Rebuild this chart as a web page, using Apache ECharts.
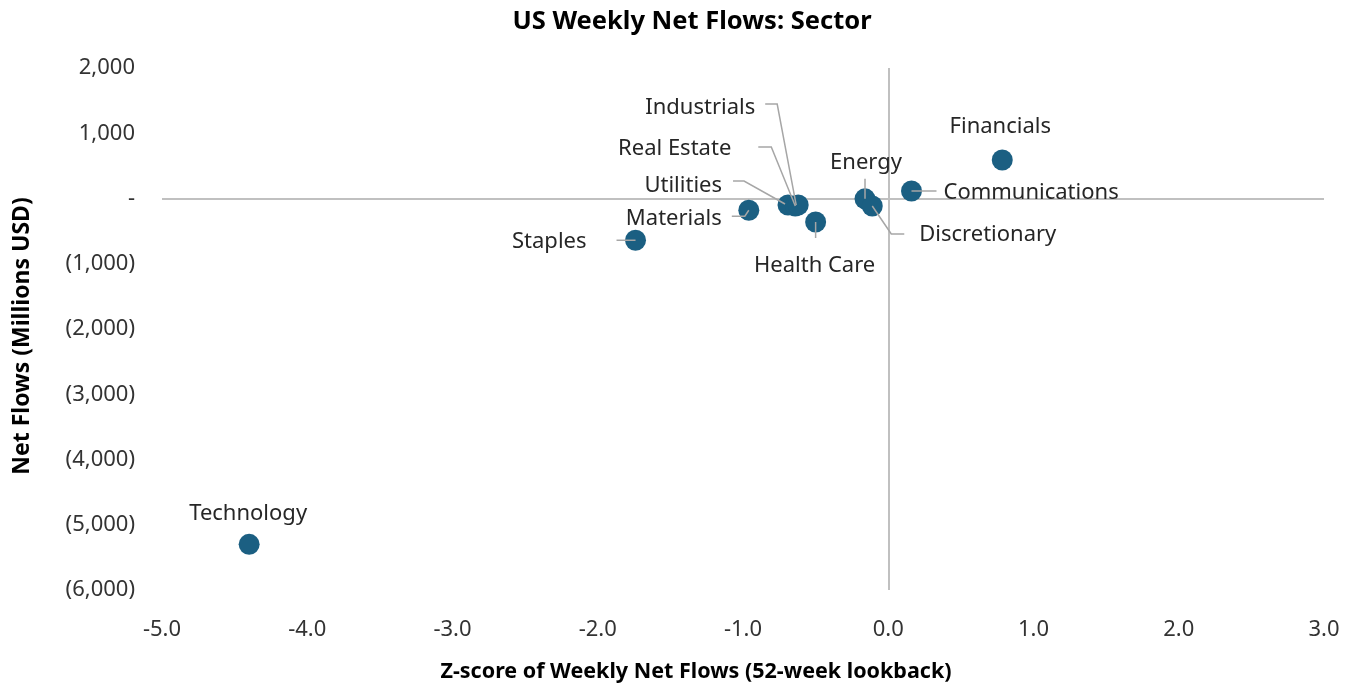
<!DOCTYPE html>
<html>
<head>
<meta charset="utf-8">
<script src="https://cdn.jsdelivr.net/npm/echarts@6/dist/echarts.min.js"></script>
<style>
html,body{margin:0;padding:0;background:#fff;}
#chart{width:1358px;height:690px;}
</style>
</head>
<body>
<div id="chart"></div>
<script>
// ---- Data ----
var sectors = ['Technology','Staples','Materials','Utilities','Real Estate','Industrials','Health Care','Energy','Discretionary','Communications','Financials'];
var zScores = [-4.40, -1.74, -0.96, -0.69, -0.64, -0.62, -0.50, -0.16, -0.11, 0.16, 0.785];
var netFlows = [-5300, -640, -180, -100, -115, -100, -360, -5, -115, 115, 590];
var xTicks = [-5, -4, -3, -2, -1, 0, 1, 2, 3];
var yTicks = [-6000, -5000, -4000, -3000, -2000, -1000, 0, 1000, 2000];

var titleText = 'US Weekly Net Flows: Sector';
var xTitle = 'Z-score of Weekly Net Flows (52-week lookback)';
var yTitle = 'Net Flows (Millions USD)';

// ---- Label placement (pixel offsets from each marker; styling only) ----
var labelPlacement = {
  'Technology':     {tx:-1,  ty:-31, align:'center'},
  'Financials':     {tx:-2,  ty:-33, align:'center'},
  'Staples':        {tx:-49, ty:1,   align:'right', line:[[-19,0],[0,0]]},
  'Materials':      {tx:-27, ty:8,   align:'right', line:[[-17,6],[-4,6],[0,0]]},
  'Utilities':      {tx:-66, ty:-19, align:'right', line:[[-55,-24],[-44,-24],[-3,-1]]},
  'Real Estate':    {tx:-64, ty:-57, align:'right', line:[[-37,-59],[-24,-59],[0,0]]},
  'Industrials':    {tx:-43, ty:-97, align:'right', line:[[-33,-101],[-21,-101],[-2,0]]},
  'Health Care':    {tx:-1,  ty:44,  align:'center', line:[[0,0],[0,16]]},
  'Energy':         {tx:1,   ty:-36, align:'center', line:[[0,-20],[0,0]]},
  'Discretionary':  {tx:47,  ty:29,  align:'left', line:[[0,0],[19,28],[32,28]]},
  'Communications': {tx:32,  ty:2,   align:'left', line:[[0,0],[25,0]]}
};

var FONT = '"Noto Sans", sans-serif';
var points = zScores.map(function(x, i){ return [x, netFlows[i]]; });

function fmtY(v){
  if (v === 0) return '-';
  var s = Math.abs(v).toLocaleString('en-US');
  return v < 0 ? '(' + s + ')' : s;
}

var chart = echarts.init(document.getElementById('chart'), null, {renderer:'canvas'});
chart.setOption({
  backgroundColor:'#ffffff',
  animation:false,
  graphic:[
    {type:'text', x:692, y:22, silent:true,
     style:{text:titleText, fontFamily:FONT, fontWeight:'bold', fontSize:25.5, fill:'#000', align:'center', verticalAlign:'middle'}},
    {type:'text', x:696, y:672, silent:true,
     style:{text:xTitle, fontFamily:FONT, fontWeight:'bold', fontSize:21.5, fill:'#000', align:'center', verticalAlign:'middle'}},
    {type:'text', x:22, y:336, rotation:Math.PI/2, silent:true,
     style:{text:yTitle, fontFamily:FONT, fontWeight:'bold', fontSize:23, fill:'#000', align:'center', verticalAlign:'middle'}}
  ],
  grid:{left:162, right:34, top:68, bottom:100, containLabel:false},
  xAxis:{
    type:'value', min:xTicks[0], max:xTicks[xTicks.length-1], interval:1,
    axisLine:{show:false}, axisTick:{show:false}, splitLine:{show:false},
    axisLabel:{margin:29, fontFamily:FONT, fontSize:22, color:'#333',
      formatter:function(v){ return v.toFixed(1); }}
  },
  yAxis:{
    type:'value', min:yTicks[0], max:yTicks[yTicks.length-1], interval:1000,
    axisLine:{show:false}, axisTick:{show:false}, splitLine:{show:false},
    axisLabel:{margin:27, fontFamily:FONT, fontSize:22, color:'#333', formatter:fmtY}
  },
  series:[
    {
      type:'scatter',
      data:points,
      symbolSize:21,
      itemStyle:{color:'#1b5f82', opacity:1},
      z:3,
      markLine:{
        silent:true, symbol:'none', label:{show:false},
        lineStyle:{color:'#c0c0c0', width:2, type:'solid'},
        data:[{xAxis:0},{yAxis:0}],
        z:1
      }
    },
    {
      type:'custom',
      data:points,
      z:5,
      silent:true,
      renderItem:function(params, api){
        var p = api.coord([api.value(0), api.value(1)]);
        var name = sectors[params.dataIndex];
        var L = labelPlacement[name];
        var children = [];
        if (L.line){
          children.push({
            type:'polyline',
            shape:{points:L.line.map(function(q){ return [p[0]+q[0], p[1]+q[1]]; })},
            style:{stroke:'#a6a6a6', lineWidth:1.5, fill:null}
          });
        }
        children.push({
          type:'text',
          x:p[0]+L.tx, y:p[1]+L.ty,
          style:{text:name, fontFamily:FONT, fontSize:22, fill:'#262626',
                 align:L.align, verticalAlign:'middle'}
        });
        return {type:'group', children:children};
      }
    }
  ]
});
</script>
</body>
</html>
